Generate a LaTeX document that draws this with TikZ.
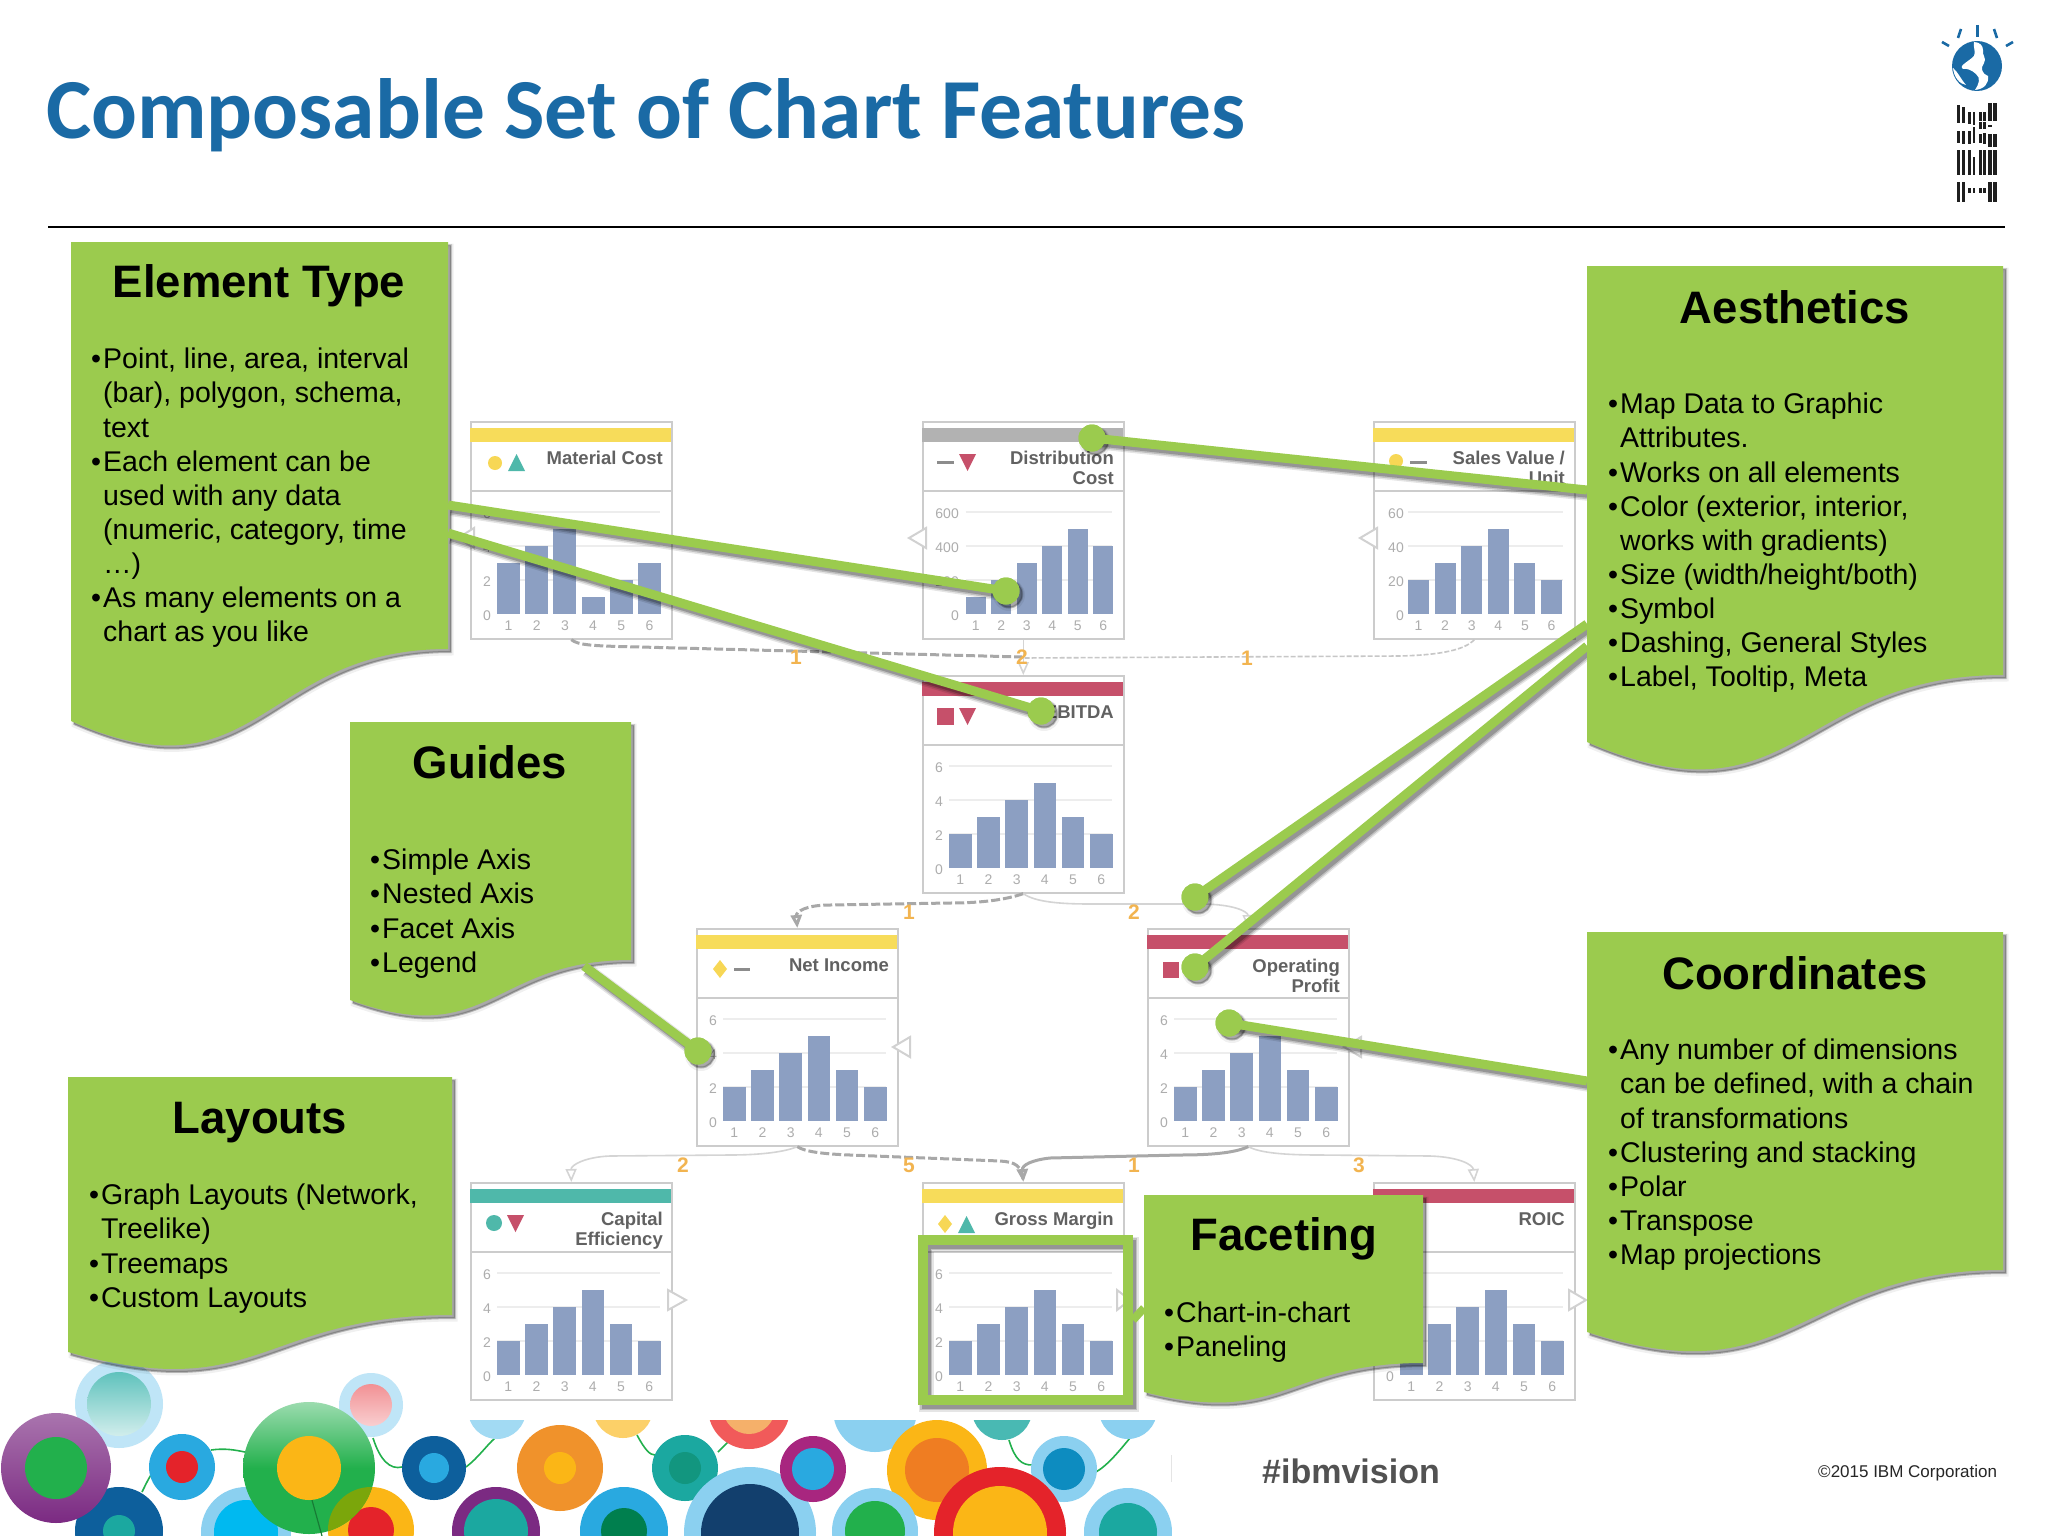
\documentclass[tikz,border=0pt]{standalone}
\usepackage{fontspec}
\setmainfont{Liberation Sans}
\newfontfamily\titlefont{Carlito}
\usetikzlibrary{arrows.meta}
\definecolor{notegreen}{HTML}{9BCB4E}
\definecolor{ibmblue}{HTML}{1A6AA5}
\definecolor{barblue}{HTML}{8C9FC2}
\definecolor{bandyellow}{HTML}{F7DC5A}
\definecolor{bandgray}{HTML}{B2B2B2}
\definecolor{bandred}{HTML}{C6506A}
\definecolor{bandteal}{HTML}{4FB8AA}
\definecolor{numorange}{HTML}{F2B450}
\definecolor{skyb}{HTML}{8BD0F0}
\definecolor{blueb}{HTML}{29A9E0}
\definecolor{darkb}{HTML}{0D5F9C}
\definecolor{yellowb}{HTML}{FBB616}
\definecolor{redb}{HTML}{E4232A}
\definecolor{greenb}{HTML}{22B04C}
\definecolor{tealb}{HTML}{1BA8A0}
\definecolor{purpleb}{HTML}{7B2A82}
\definecolor{orangeb}{HTML}{F0922B}
\definecolor{deeporange}{HTML}{EF7D22}
\definecolor{navyb}{HTML}{123F6D}
\definecolor{forestb}{HTML}{007F4E}
\definecolor{darkteal}{HTML}{12967F}
\definecolor{oceanb}{HTML}{0D8CC0}
\definecolor{plumb}{HTML}{A8267F}
\definecolor{cyanb}{HTML}{00B9F0}
\definecolor{coralb}{HTML}{F15A5A}
\definecolor{peachb}{HTML}{F5B06A}
\tikzset{
 softstroke/.style={
  preaction={draw=black,draw opacity=.10,line width=#1pt+5pt,transform canvas={xshift=3pt,yshift=-4pt}},
  preaction={draw=black,draw opacity=.16,line width=#1pt+2pt,transform canvas={xshift=3pt,yshift=-4pt}},
  preaction={draw=black,draw opacity=.22,line width=#1pt-1pt,transform canvas={xshift=3pt,yshift=-4pt}}},
 softfill/.style={
  preaction={fill=black,fill opacity=.10,draw=black,draw opacity=.06,line width=5pt,transform canvas={xshift=3pt,yshift=-4pt}},
  preaction={fill=black,fill opacity=.26,draw=black,draw opacity=.16,line width=2pt,transform canvas={xshift=3pt,yshift=-3pt}}},
 notefill/.style={fill=notegreen},
 notehead/.style={font=\bfseries\fontsize{45.5}{50}\selectfont,text=black,inner sep=0pt,anchor=center},
 notebody/.style={font=\fontsize{28.5}{34.1}\selectfont,text=black,inner sep=0pt,anchor=north west,align=left},
 leader/.style={draw=notegreen,line width=9pt,softstroke=9},
 leaderdot/.style={circle,fill=notegreen,inner sep=0pt,minimum size=27pt,softfill},
 dotcap/.style={circle,fill=notegreen,inner sep=0pt,minimum size=27pt},
 cardbox/.style={draw=black!20,line width=1.6pt,fill=white,minimum width=201pt,minimum height=217pt,inner sep=0pt},
 cardtitle/.style={font=\bfseries\fontsize{18.5}{20}\selectfont,text=black!62,inner sep=0pt,align=right,anchor=north east},
 ticklab/.style={font=\fontsize{14}{16}\selectfont,text=black!32,inner sep=0pt},
 flowdash/.style={draw=black!34,line width=3pt,dash pattern=on 9pt off 3pt},
 flowthin/.style={draw=black!17,line width=1.6pt},
 flowdot/.style={draw=black!22,line width=1.6pt,dash pattern=on 5pt off 2pt},
 flowsolid/.style={draw=black!34,line width=3pt},
 tip/.style={-{Triangle[open,length=13pt,width=11pt]}},
 numlab/.style={font=\bfseries\fontsize{21}{22}\selectfont,text=numorange,inner sep=0pt},
 hollow/.style={draw=black!18,line width=2pt,fill=white},
 legdash/.style={draw=black!45,line width=3pt},
}
\newcommand{\bul}{•\kern2pt}
\newcommand{\hang}{\hspace*{12pt}}
% x0, y0, x1, yR, yL : the outline of a note
\newcommand{\noteoutline}[5]{%
 \pgfmathsetmacro\nbh{(#4-#2)/.802}%
 \pgfmathsetmacro\nbc{#2+1.1075*\nbh}%
 \pgfmathsetmacro\nbm{(#1+#3)/2}%
 \def\notepath{(#1,#2) -- (#3,#2) -- (#3,#4) .. controls (\nbm,#4) and (\nbm,\nbc) .. (#1,#5) -- cycle}%
}
\newcommand{\noteshadow}[5]{\noteoutline{#1}{#2}{#3}{#4}{#5}\expandafter\path\expandafter[\expandafter s\expandafter o\expandafter f\expandafter t\expandafter f\expandafter i\expandafter l\expandafter l\expandafter]\notepath;}
\newcommand{\noteface}[5]{\noteoutline{#1}{#2}{#3}{#4}{#5}\expandafter\path\expandafter[\expandafter n\expandafter o\expandafter t\expandafter e\expandafter f\expandafter i\expandafter l\expandafter l\expandafter]\notepath;}
% name,x,y,band
\newcommand{\chartcard}[4]{%
 \node[cardbox,anchor=north west] (#1) at (#2,#3) {};
 \fill[#4] ({#2},{#3+7}) rectangle ({#2+201},{#3+21});
 \draw[black!20,line width=1.4pt] ({#2},{#3+70}) -- ({#2+201},{#3+70});
}
% cardx,cardy,start,w,pitch,labelright,labels,values
\newcommand{\chartbars}[8]{%
 \foreach \gk in {1,2,3}{\draw[black!7,line width=1.2pt] ({#1+#3},{#2+193-34*\gk}) -- ({#1+190},{#2+193-34*\gk});}
 \foreach \lb [count=\lk from 0] in {#7}{\node[ticklab,anchor=east] at ({#1+#6},{#2+195-34*\lk}) {\lb};}
 \foreach \vv [count=\ii] in {#8}{%
  \fill[barblue] ({#1+#3+(\ii-1)*#5},{#2+193}) rectangle ({#1+#3+(\ii-1)*#5+#4},{#2+193-17*\vv});
  \node[ticklab] at ({#1+#3+(\ii-1)*#5+#4/2},{#2+205}) {\ii};
 }
}
\newcommand{\bub}[6]{\fill[#4] (#1,#2) circle (#3); \fill[#6] (#1,#2) circle (#5);}
\begin{document}
\begin{tikzpicture}[x=1pt,y=-1pt]
\fill[white] (0,0) rectangle (2048,1536);
\useasboundingbox (0,0) rectangle (2048,1536);
% title
\node[font=\titlefont\bfseries\fontsize{85.5}{88}\selectfont,text=ibmblue,inner sep=0pt,anchor=base west] (title) at (46,139) {Composable Set of Chart Features};
\coordinate (ruleL) at (48,227); \coordinate (ruleR) at (2005,227);
\draw[black,line width=2pt] (ruleL) -- (ruleR);
% logo
\fill[ibmblue] (1977,66) circle (25);
\fill[white] (1974,42) .. controls (1980,42) and (1983,46) .. (1983,50) .. controls (1982,56) and (1987,58) .. (1984,63) .. controls (1980,68) and (1982,74) .. (1988,76) .. controls (1989,84) and (1984,89) .. (1975,90) .. controls (1979,84) and (1981,78) .. (1976,74) .. controls (1972,70) and (1966,68) .. (1963,69) .. controls (1958,66) and (1968,62) .. (1974,56) .. controls (1976,52) and (1973,47) .. (1974,42) -- cycle;
\fill[white] (1953,68) .. controls (1958,72) and (1960,78) .. (1966,85) .. controls (1960,84) and (1954,78) .. (1953,68) -- cycle;
\foreach \ra/\rb/\rc/\rd in {1977.5/25/1977.5/37, 1961/29/1958/38, 1994/29/1997/38, 1949/46/1942/42, 2006/46/2013/42}{\draw[ibmblue,line width=2.6pt] (\ra,\rb) -- (\rc,\rd);}
\foreach \xa/\xb/\segs in {172/181/{315/368,392/428,450/525,545/605},187/196/{320/368,392/432,450/525,545/605},204/213/{335/372,392/432,450/525,565/580},218/226/{335/376,380/428,470/525,565/580},236/245/{335/362,365/388,402/428,450/525,565/580},250/258/{335/362,365/388,398/432,450/525,565/580},265/275/{310/362,375/382,402/442,450/525,545/605},280/290/{310/362,402/442,450/525,545/605}}{
 \foreach \ya/\yb in \segs {\fill[black!88] ({1900+\xa/3},{\ya/3}) rectangle ({1900+\xb/3},{\yb/3});}
}
% cards
\chartcard{mat}{470}{421}{bandyellow}
\chartcard{dist}{922}{421}{bandgray}
\chartcard{sales}{1373}{421}{bandyellow}
\chartcard{ebitda}{922}{675}{bandred}
\chartcard{net}{696}{928}{bandyellow}
\chartcard{op}{1147}{928}{bandred}
\chartcard{cap}{470}{1182}{bandteal}
\chartcard{gross}{922}{1182}{bandyellow}
\chartcard{roic}{1373}{1182}{bandred}
\chartbars{470}{421}{27}{23}{28.2}{21}{0,2,4,6}{3,4,5,1,2,3}
\chartbars{922}{421}{43.5}{20.4}{25.5}{37}{0,200,400,600}{1,2,3,4,5,4}
\chartbars{1373}{421}{35}{21}{26.6}{31}{0,20,40,60}{2,3,4,5,3,2}
\chartbars{922}{675}{27}{22.5}{28.2}{21}{0,2,4,6}{2,3,4,5,3,2}
\chartbars{696}{928}{27}{22.5}{28.2}{21}{0,2,4,6}{2,3,4,5,3,2}
\chartbars{1147}{928}{27}{22.5}{28.2}{21}{0,2,4,6}{2,3,4,5,3,2}
\chartbars{470}{1182}{27}{22.5}{28.2}{21}{0,2,4,6}{2,3,4,5,3,2}
\chartbars{922}{1182}{27}{22.5}{28.2}{21}{0,2,4,6}{2,3,4,5,3,2}
\chartbars{1373}{1182}{27}{22.5}{28.2}{21}{0,2,4,6}{2,3,4,5,3,2}
% card titles
\node[cardtitle] (tmat) at (663,451) {Material Cost};
\node[cardtitle] (tdist) at (1114,451) {Distribution\\Cost};
\node[cardtitle] (tsales) at (1565,451) {Sales Value /\\Unit};
\node[cardtitle] (tebitda) at (1114,706) {EBITDA};
\node[cardtitle] (tnet) at (889,959) {Net Income};
\node[cardtitle] (top) at (1340,959) {Operating\\Profit};
\node[cardtitle] (tcap) at (663,1212) {Capital\\Efficiency};
\node[cardtitle] (tgross) at (1114,1212) {Gross Margin};
\node[cardtitle] (troic) at (1565,1212) {ROIC};
% legend marks
\fill[bandyellow!95!orange] (495,463) circle (7);
\fill[bandteal] (508,471) -- (525,471) -- (516.5,454) -- cycle;
\draw[legdash] (937,462) -- (954,462);
\fill[bandred] (959,454) -- (976,454) -- (967.5,471) -- cycle;
\fill[bandyellow!95!orange] (1396,461) circle (7);
\draw[legdash] (1410,462) -- (1427,462);
\fill[bandred] (937,708) rectangle (954,725);
\fill[bandred] (959,708) -- (976,708) -- (967.5,725) -- cycle;
\fill[bandyellow!95!orange] (720,960) -- (727,969) -- (720,978) -- (713,969) -- cycle;
\draw[legdash] (734,969) -- (750,969);
\fill[bandred] (1163,962) rectangle (1179,978);
\fill[bandred] (1185,962) -- (1202,962) -- (1193.5,979) -- cycle;
\fill[bandteal] (494,1223) circle (8);
\fill[bandred] (507,1215) -- (524,1215) -- (515.5,1232) -- cycle;
\fill[bandyellow!95!orange] (945,1215) -- (952,1224) -- (945,1233) -- (938,1224) -- cycle;
\fill[bandteal] (958,1233) -- (975,1233) -- (966.5,1216) -- cycle;
% side triangles
\path[hollow] (909,538) -- (926,528) -- (926,548) -- cycle;
\path[hollow] (1360,538) -- (1377,528) -- (1377,548) -- cycle;
\path[hollow] (458,538) -- (474,528) -- (474,548) -- cycle;
\path[hollow] (893,1047) -- (910,1037) -- (910,1057) -- cycle;
\path[hollow] (1344,1047) -- (1361,1037) -- (1361,1057) -- cycle;
\path[hollow] (686,1300) -- (668,1290) -- (668,1310) -- cycle;
\path[hollow] (1130,1300) -- (1117,1290) -- (1117,1310) -- cycle;
\path[hollow] (1586,1300) -- (1569,1290) -- (1569,1310) -- cycle;
% flow connectors
\draw[flowdash] (mat.south) .. controls (578,645) and (590,646) .. (640,647) -- (1022,657);
\draw[flowdot] (sales.south) .. controls (1465,650) and (1440,655) .. (1400,656) -- (1022,658);
\draw[flowthin,tip] (dist.south) -- (ebitda.north);
\draw[flowdash,tip] (ebitda.south) .. controls (1005,900) and (980,903) .. (950,903) -- (830,905) .. controls (805,905) and (796,912) .. (net.north);
\draw[flowthin,tip] (ebitda.south) .. controls (1035,902) and (1060,904) .. (1090,904) -- (1200,904) .. controls (1235,904) and (1248,912) .. (op.north);
\draw[flowthin,tip] (net.south) .. controls (785,1152) and (760,1155) .. (730,1155) -- (610,1156) .. controls (585,1157) and (571,1165) .. (cap.north);
\draw[flowthin,tip] (op.south) .. controls (1260,1153) and (1285,1155) .. (1320,1155) -- (1430,1156) .. controls (1460,1157) and (1473,1165) .. (roic.north);
\draw[flowdash] (net.south) .. controls (805,1152) and (825,1154) .. (850,1155) -- (1000,1161) .. controls (1015,1162) and (1022,1165) .. (gross.north);
\draw[flowsolid,tip] (op.south) .. controls (1235,1153) and (1210,1155) .. (1180,1155) -- (1050,1158) .. controls (1032,1160) and (1022,1165) .. (gross.north);
\node[numlab] (n1) at (796,657) {1};
\node[numlab] (n2) at (1022,657) {2};
\node[numlab] (n3) at (1247,658) {1};
\node[numlab] (n4) at (909,912) {1};
\node[numlab] (n5) at (1134,912) {2};
\node[numlab] (n6) at (683,1165) {2};
\node[numlab] (n7) at (909,1165) {5};
\node[numlab] (n8) at (1134,1165) {1};
\node[numlab] (n9) at (1359,1165) {3};
% bubbles
\begin{scope}
\clip (0,1340) -- (460,1340) -- (460,1420) -- (1172,1420) -- (1172,1536) -- (0,1536) -- cycle;
\foreach \pa/\pb/\pc/\pd/\pe/\pf/\pg/\ph in {
 211/1450/225/1448/235/1450/245/1452,
 142/1492/147/1482/150/1475/155/1470,
 373/1438/380/1460/390/1470/402/1467,
 466/1467/478/1458/487/1445/495/1438,
 637/1435/645/1450/650/1455/655/1455,
 718/1452/722/1448/725/1445/728/1442,
 1009/1440/1015/1460/1022/1465/1032/1465,
 1096/1472/1108/1465/1120/1450/1130/1438}{
 \draw[greenb,line width=1.6pt] (\pa,\pb) .. controls (\pc,\pd) and (\pe,\pf) .. (\pg,\ph);
}
\fill[skyb!55] (119,1404) circle (44);
\shade[top color=tealb!70,bottom color=tealb!20] (119,1404) circle (32);
\bub{119}{1531}{44}{darkb}{16}{tealb}
\shade[top color=purpleb!65,bottom color=purpleb] (56,1468) circle (55);
\fill[greenb] (56,1468) circle (31);
\bub{182}{1467}{33}{blueb}{16}{redb}
\fill[skyb!55] (371,1405) circle (32);
\shade[top color=redb!50,bottom color=redb!22] (371,1405) circle (21);
\bub{371}{1530}{43}{yellowb}{23}{redb}
\bub{246}{1532}{45}{skyb}{32}{cyanb}
\shade[top color=greenb!45,bottom color=greenb,middle color=greenb] (309,1468) circle (66);
\fill[yellowb] (309,1468) circle (32);
\begin{scope}
 \clip (309,1468) circle (66);
 \fill[black!30!yellowb!70!green] (371,1530) circle (43);
\end{scope}
\draw[greenb!70!black,line width=1.2pt] (312,1500) -- (322,1536);
\fill[skyb!80] (497,1410) circle (29);
\bub{434}{1468}{32}{darkb}{15}{blueb}
\bub{560}{1468}{43}{orangeb}{16}{yellowb}
\fill[yellowb!65] (623,1408) circle (30);
\bub{496}{1531}{44}{purpleb}{32}{tealb}
\bub{624}{1531}{44}{blueb}{23}{forestb}
\bub{685}{1468}{33}{tealb}{16}{darkteal}
\bub{749}{1408}{41}{coralb}{26}{peachb}
\bub{750}{1533}{66}{skyb}{49}{navyb}
\bub{813}{1469}{33}{plumb}{21}{blueb}
\bub{875}{1410}{42}{skyb}{10}{tealb!60!white}
\bub{937}{1470}{50}{yellowb}{32}{deeporange}
\bub{1002}{1410}{30}{tealb!80!white}{8}{peachb}
\bub{1064}{1469}{33}{skyb}{21}{oceanb}
\bub{1128}{1410}{29}{skyb}{6}{purpleb!70!white}
\bub{1000}{1533}{66}{redb}{47}{yellowb}
\bub{875}{1531}{43}{skyb}{30}{greenb}
\bub{1128}{1532}{44}{skyb}{29}{tealb}
\end{scope}
\fill[black!10] (1171,1455) rectangle (1172,1482);
% note shadows
\noteshadow{71}{242}{448}{649}{721}
\noteshadow{1587}{266}{2003}{675}{742}
\noteshadow{350}{722}{631}{960}{1000}
\noteshadow{68}{1077}{452}{1315}{1352}
\noteshadow{1587}{932}{2003}{1270}{1332}
% leaders
\coordinate (la) at (448,505); \coordinate (lb) at (448,533);
\coordinate (lc) at (1587,490); \coordinate (ld) at (1587,624);
\coordinate (le) at (1587,646); \coordinate (lf) at (584,966);
\coordinate (lg) at (1587,1081); \coordinate (lh) at (1144,1308);
\node[leaderdot] (da) at (1006,591) {};
\node[leaderdot] (db) at (1041,711) {};
\node[leaderdot] (dc) at (1092,438) {};
\node[leaderdot] (dd) at (1195,897) {};
\node[leaderdot] (de) at (1195,967) {};
\node[leaderdot] (df) at (698,1051) {};
\node[leaderdot] (dg) at (1229,1023) {};
\draw[leader] (la) -- (da.center);
\draw[leader] (lb) -- (db.center);
\draw[leader] (lc) -- (dc.center);
\draw[leader] (ld) -- (dd.center);
\draw[leader] (le) -- (de.center);
\draw[leader] (lf) -- (df.center);
\draw[leader] (lg) -- (dg.center);
\node[dotcap] at (da) {};
\node[dotcap] at (db) {};
\node[dotcap] at (dc) {};
\node[dotcap] at (dd) {};
\node[dotcap] at (de) {};
\node[dotcap] at (df) {};
\node[dotcap] at (dg) {};
% note faces and texts
\noteface{71}{242}{448}{649}{721}
\noteface{1587}{266}{2003}{675}{742}
\noteface{350}{722}{631}{960}{1000}
\noteface{68}{1077}{452}{1315}{1352}
\noteface{1587}{932}{2003}{1270}{1332}
\node[notehead] (helem) at (259,286) {Element Type};
\node[notebody] (belem) at (91,348) {\bul Point, line, area, interval\\\hang (bar), polygon, schema,\\\hang text\\\bul Each element can be\\\hang used with any data\\\hang (numeric, category, time\\\hang …)\\\bul As many elements on a\\\hang chart as you like};
\node[notehead] (haes) at (1795,307) {Aesthetics};
\node[notebody] (baes) at (1608,393) {\bul Map Data to Graphic\\\hang Attributes.\\\bul Works on all elements\\\bul Color (exterior, interior,\\\hang works with gradients)\\\bul Size (width/height/both)\\\bul Symbol\\\bul Dashing, General Styles\\\bul Label, Tooltip, Meta};
\node[notehead] (hguides) at (490,762) {Guides};
\node[notebody] (bguides) at (370,849) {\bul Simple Axis\\\bul Nested Axis\\\bul Facet Axis\\\bul Legend};
\node[notehead] (hlayouts) at (260,1123) {Layouts};
\node[notebody] (blayouts) at (89,1184) {\bul Graph Layouts (Network,\\\hang Treelike)\\\bul Treemaps\\\bul Custom Layouts};
\node[notehead] (hcoords) at (1795,973) {Coordinates};
\node[notebody] (bcoords) at (1608,1039) {\bul Any number of dimensions\\\hang can be defined, with a chain\\\hang of transformations\\\bul Clustering and stacking\\\bul Polar\\\bul Transpose\\\bul Map projections};
% faceting
\node[draw=notegreen,line width=10pt,minimum width=205pt,minimum height=160pt,inner sep=0pt,softstroke=10] (frame) at (1025.5,1320) {};
\draw[notegreen,line width=8pt] (frame.east) -- (lh);
\noteshadow{1144}{1195}{1423}{1363}{1392}
\noteface{1144}{1195}{1423}{1363}{1392}
\node[notehead] (hfacet) at (1284,1239) {Faceting};
\node[notebody] (bfacet) at (1164,1302) {\bul Chart-in-chart\\\bul Paneling};
% footer
\node[font=\bfseries\fontsize{34}{36}\selectfont,text=black!68,inner sep=0pt,anchor=west] (tag) at (1262,1471) {\#ibmvision};
\node[font=\fontsize{17}{19}\selectfont,text=black!85,inner sep=0pt,anchor=west] (copy) at (1818,1473) {©2015 IBM Corporation};
\end{tikzpicture}
\end{document}
